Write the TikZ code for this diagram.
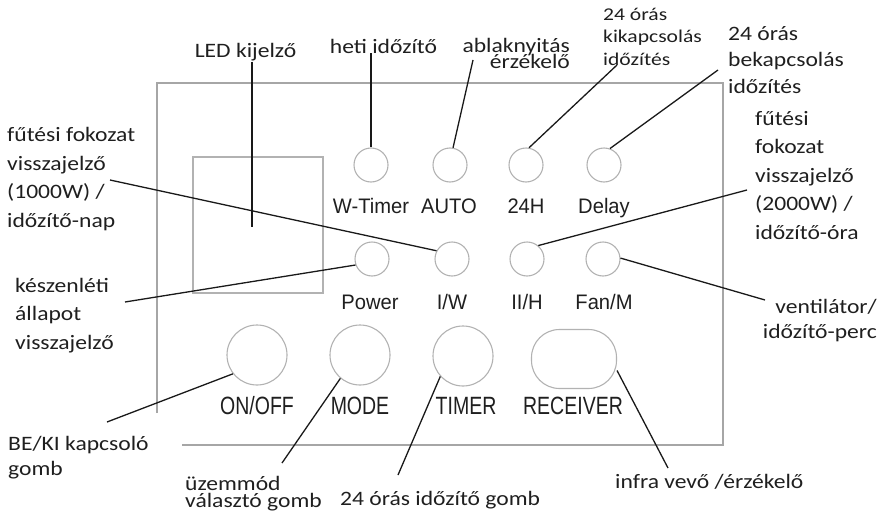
\documentclass[tikz,border=0pt]{standalone}
\usepackage{fontspec}
\setmainfont{Carlito}
\newfontfamily\annfont[FakeStretch=1.15]{Carlito}
\newfontfamily\annsmallfont[FakeStretch=1.2]{Carlito}
\newfontfamily\keyfont[FakeStretch=0.96]{Liberation Sans}
\newfontfamily\bigkeyfont[FakeStretch=0.78]{Liberation Sans}
\newcommand\annsize[2]{\fontsize{#1}{#2}\selectfont\lineskiplimit-50pt\relax}

\begin{document}
\begin{tikzpicture}[x=1pt,y=-1pt,
  panel/.style={draw=black!35,line width=2.4pt},
  led/.style={circle,draw=black!30,line width=1.1pt,minimum size=34pt,inner sep=0pt},
  bigkey/.style={circle,draw=black!30,line width=1.1pt,minimum size=60pt,inner sep=0pt},
  keytext/.style={anchor=base,inner sep=0pt,text=black!88,font={\keyfont\fontsize{21}{24}\selectfont}},
  bigkeytext/.style={anchor=base,inner sep=0pt,text=black!88,font={\bigkeyfont\fontsize{25}{28}\selectfont}},
  ann/.style={inner sep=0pt,align=left,text=black!88,font={\annfont\annsize{20.5}{28.5}}},
  callout/.style={draw=black!90,line width=1.3pt}]
  \useasboundingbox (0,0) rectangle (885,511);

  % front panel
  \draw[panel] (157,413) -- (157,83) -- (723,83) -- (723,445) -- (182,445);
  \node[draw=black!30,line width=1.1pt,minimum width=130pt,minimum height=136pt,inner sep=0pt] (display) at (258,225) {};

  % indicator lamps
  \node[led] (wtimer) at (371,165) {};
  \node[led] (auto) at (450,165) {};
  \node[led] (h24) at (526,165) {};
  \node[led] (delay) at (604,165) {};
  \node[keytext] (wtimer-t) at (371,213) {W-Timer};
  \node[keytext] (auto-t) at (449,213) {AUTO};
  \node[keytext] (h24-t) at (526,213) {24H};
  \node[keytext] (delay-t) at (604,213) {Delay};

  \node[led] (power) at (372,259) {};
  \node[led] (iw) at (452,259) {};
  \node[led] (iih) at (527,259) {};
  \node[led] (fanm) at (603,259) {};
  \node[keytext] (power-t) at (370,309) {Power};
  \node[keytext] (iw-t) at (452,309) {I/W};
  \node[keytext] (iih-t) at (527,309) {II/H};
  \node[keytext] (fanm-t) at (604,309) {Fan/M};

  % buttons
  \node[bigkey] (onoff) at (257,355) {};
  \node[bigkey] (mode) at (360,355) {};
  \node[bigkey] (timer) at (463,356) {};
  \node[draw=black!30,line width=1.1pt,rounded corners=28pt,minimum width=85pt,minimum height=59pt] (receiver) at (574,359) {};
  \node[bigkeytext] (onoff-t) at (257,414) {ON/OFF};
  \node[bigkeytext] (mode-t) at (360,414) {MODE};
  \node[bigkeytext] (timer-t) at (466,414) {TIMER};
  \node[bigkeytext] (receiver-t) at (573,414) {RECEIVER};

  % labels (multi-line ones sit on their last line)
  \node[ann,anchor=base] (ledlbl) at (245.5,58) {LED kijelző};
  \node[ann,anchor=base] (hetilbl) at (383.5,53) {heti időzítő};
  \node[ann,anchor=base east,align=right,font={\annfont\annsize{20.5}{16}}] (ablaklbl) at (570,68) {ablaknyitás\\érzékelő};
  \node[ann,anchor=base west,font={\annsmallfont\annsize{18}{22}}] (kilbl) at (603,65) {24 órás\\kikapcsolás\\időzítés};
  \node[ann,anchor=base west,font={\annfont\annsize{20.5}{26.5}}] (belbl) at (728,93) {24 órás\\bekapcsolás\\időzítés};
  \node[ann,anchor=base west] (fut2lbl) at (755,239) {fűtési\\fokozat\\visszajelző\\(2000W) /\\időzítő-óra};
  \node[ann,anchor=base west] (fut1lbl) at (7,227) {fűtési fokozat\\visszajelző\\(1000W) /\\időzítő-nap};
  \node[ann,anchor=base west] (keszlbl) at (15,349) {készenléti\\állapot\\visszajelző};
  \node[ann,anchor=base east,align=right,font={\annfont\annsize{20.5}{25}}] (ventlbl) at (877,338) {ventilátor/\\időzítő-perc};
  \node[ann,anchor=base west,font={\annfont\annsize{20.5}{25}}] (bekilbl) at (8,475) {BE/KI kapcsoló\\gomb};
  \node[ann,anchor=base west,font={\annfont\annsize{20.5}{17.5}}] (uzemlbl) at (185,507.5) {üzemmód\\választó gomb};
  \node[ann,anchor=base west] (timerlbl) at (340,505) {24 órás időzítő gomb};
  \node[ann,anchor=base west] (infralbl) at (615,488) {infra vevő /érzékelő};

  % leader lines
  \coordinate (ledtip) at (252,227);
  \coordinate (ablakfrom) at (473,60);
  \coordinate (kifrom) at (617,65);
  \coordinate (befrom) at (718,70);
  \coordinate (fut1from) at (110,180);
  \coordinate (fut2from) at (747,190);
  \coordinate (keszfrom) at (125,302);
  \coordinate (ventfrom) at (765,300);
  \coordinate (bekifrom) at (107,422);
  \coordinate (uzemfrom) at (282,463);
  \coordinate (timerfrom) at (398,475);
  \coordinate (infrafrom) at (668,468);

  \draw[callout] (ledlbl.south -| ledtip) -- (ledtip);
  \draw[callout] (hetilbl.south -| wtimer.north) -- (wtimer.north);
  \draw[callout] (ablakfrom) -- (auto.80);
  \draw[callout] (kifrom) -- (h24.80);
  \draw[callout] (befrom) -- (delay.70);
  \draw[callout] (fut1from) -- (iw.152);
  \draw[callout] (fut2from) -- (iih.50);
  \draw[callout] (keszfrom) -- (power.200);
  \draw[callout] (fanm.3) -- (ventfrom);
  \draw[callout] (bekifrom) -- (onoff.218);
  \draw[callout] (uzemfrom) -- (mode.230);
  \draw[callout] (timerfrom) -- (timer.222);
  \draw[callout] (infrafrom) -- (receiver.-15);
\end{tikzpicture}
\end{document}
